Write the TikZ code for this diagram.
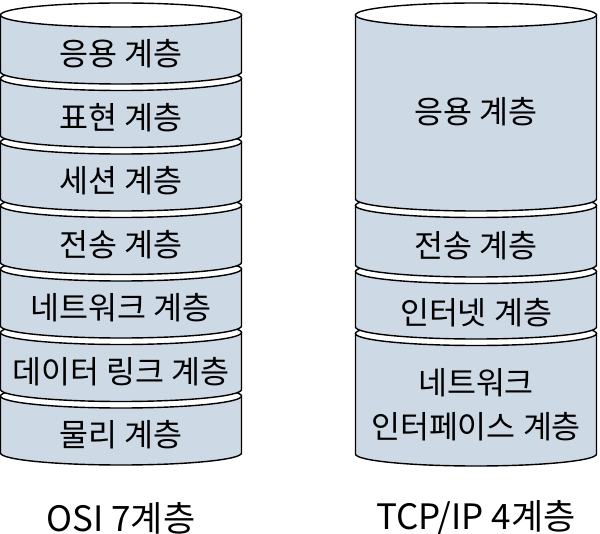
\documentclass[tikz,border=0pt]{standalone}
\usepackage{fontspec}
\setmainfont{Noto Sans CJK KR}
\definecolor{layerblue}{RGB}{205,217,228}

\tikzset{
  layerface/.style={fill=layerblue, draw=black, line width=1.4pt, line join=round},
  layertop/.style={fill=white, draw=black, line width=1.4pt},
  layerlabel/.style={font=\fontsize{31.5}{44}\selectfont, align=center, inner sep=0pt},
  stackcaption/.style={font=\fontsize{35}{40}\selectfont, inner sep=0pt}
}

% one disk of a stack: centre x, top, bottom
\newcommand{\layerdisk}[3]{%
  \path[layerface] (#1-120.5,#2) -- (#1-120.5,#3)
    arc[start angle=180, end angle=0, x radius=120.5, y radius=12] -- (#1+120.5,#2) -- cycle;
  \path[layertop] (#1,#2) ellipse[x radius=120.5, y radius=12];
}

\begin{document}
\begin{tikzpicture}[x=1pt, y=-1pt]
  \useasboundingbox (0,0) rectangle (600,534);

  % OSI stack, drawn from the bottom up
  \foreach \k/\txt in {6/물리 계층, 5/데이터 링크 계층, 4/네트워크 계층, 3/전송 계층,
                       2/세션 계층, 1/표현 계층, 0/응용 계층} {
    \layerdisk{121}{15+63.5*\k}{72+63.5*\k}
    \node[layerlabel] (osi\k) at (121, 54+63.5*\k) {\txt};
  }

  % TCP/IP stack
  \layerdisk{476}{333.5}{454}
  \node[layerlabel] (tcpnet) at (476, 405) {네트워크\\인터페이스 계층};
  \layerdisk{476}{271.5}{327}
  \node[layerlabel] (tcpinet) at (476, 313) {인터넷 계층};
  \layerdisk{476}{205.5}{265}
  \node[layerlabel] (tcptrans) at (476, 246) {전송 계층};
  \layerdisk{476}{15}{199}
  \node[layerlabel] (tcpapp) at (476, 112) {응용 계층};

  \node[stackcaption] (osicap) at (121, 518) {OSI 7계층};
  \node[stackcaption] (tcpcap) at (476, 518) {TCP/IP 4계층};
\end{tikzpicture}
\end{document}
